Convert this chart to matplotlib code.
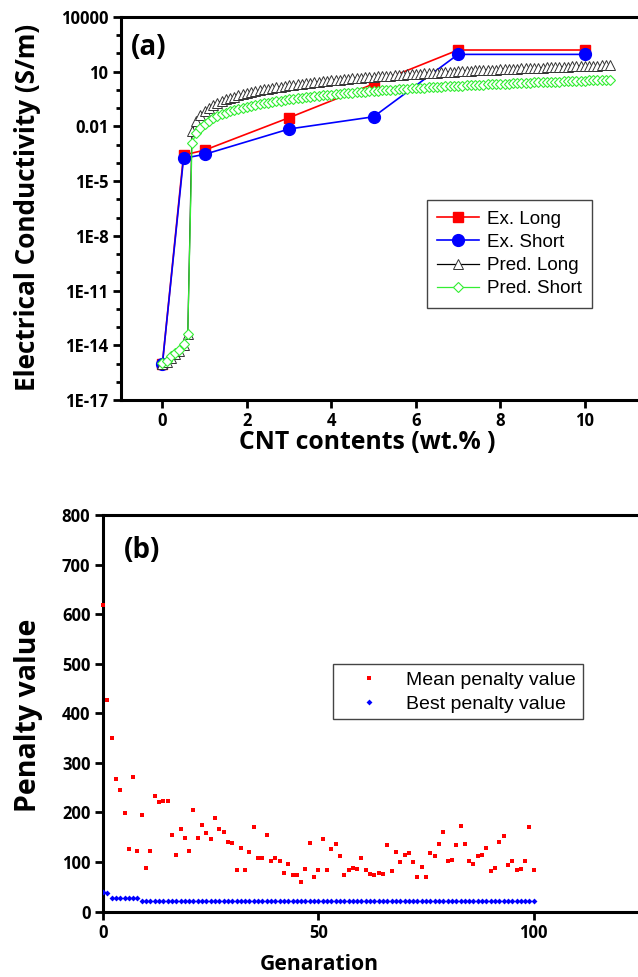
import matplotlib
matplotlib.use('Agg')
import matplotlib.pyplot as plt
import numpy as np
from matplotlib.ticker import FixedLocator, NullFormatter

# ---- (a) data : conductivity, read as log10(S/m) ----
ex_x = [0, 0.5, 1, 3, 5, 7, 10]
ex_long_log = [-15.0, -3.57, -3.3, -1.52, 0.33, 2.19, 2.19]
ex_short_log = [-15.0, -3.75, -3.53, -2.14, -1.47, 1.95, 1.95]

pred_x = [round(0.1 * i, 1) for i in range(107)]
pred_long_log = [
    -15.0, -14.9, -14.7, -14.5, -14.3, -14.0, -13.4, -2.23, -1.69, -1.37,
    -1.14, -0.97, -0.83, -0.71, -0.60, -0.51, -0.43, -0.36, -0.29, -0.23,
    -0.17, -0.11, -0.06, -0.02, 0.03, 0.07, 0.11, 0.15, 0.18, 0.22,
    0.25, 0.28, 0.32, 0.34, 0.37, 0.40, 0.43, 0.45, 0.48, 0.50,
    0.52, 0.55, 0.57, 0.59, 0.61, 0.63, 0.65, 0.67, 0.69, 0.71,
    0.73, 0.74, 0.76, 0.78, 0.79, 0.81, 0.83, 0.84, 0.86, 0.87,
    0.89, 0.90, 0.91, 0.93, 0.94, 0.95, 0.97, 0.98, 0.99, 1.01,
    1.02, 1.03, 1.04, 1.05, 1.07, 1.08, 1.09, 1.10, 1.11, 1.12,
    1.13, 1.14, 1.15, 1.16, 1.17, 1.18, 1.19, 1.20, 1.21, 1.22,
    1.23, 1.24, 1.25, 1.26, 1.27, 1.28, 1.28, 1.29, 1.30, 1.31,
    1.32, 1.33, 1.33, 1.34, 1.35, 1.36, 1.37]
pred_short_log = [
    -14.95, -14.85, -14.6, -14.45, -14.25, -13.95, -13.4, -2.90, -2.38, -2.07,
    -1.86, -1.69, -1.55, -1.44, -1.34, -1.25, -1.17, -1.10, -1.03, -0.97,
    -0.92, -0.87, -0.82, -0.77, -0.73, -0.69, -0.65, -0.61, -0.58, -0.55,
    -0.51, -0.48, -0.45, -0.43, -0.40, -0.37, -0.35, -0.32, -0.30, -0.27,
    -0.25, -0.23, -0.21, -0.19, -0.17, -0.15, -0.13, -0.11, -0.09, -0.08,
    -0.06, -0.04, -0.03, -0.01, 0.01, 0.02, 0.04, 0.05, 0.07, 0.08,
    0.09, 0.11, 0.12, 0.14, 0.15, 0.16, 0.17, 0.19, 0.20, 0.21,
    0.22, 0.23, 0.25, 0.26, 0.27, 0.28, 0.29, 0.30, 0.31, 0.32,
    0.33, 0.34, 0.35, 0.36, 0.37, 0.38, 0.39, 0.40, 0.41, 0.42,
    0.43, 0.44, 0.44, 0.45, 0.46, 0.47, 0.48, 0.49, 0.49, 0.50,
    0.51, 0.52, 0.53, 0.53, 0.54, 0.55, 0.56]

ytick_exp = [-17, -14, -11, -8, -5, -2, 1, 4]
ytick_labels = ['1E-17', '1E-14', '1E-11', '1E-8', '1E-5', '0.01', '10', '10000']

# ---- (b) data : penalty per generation ----
mean_penalty = [
    619, 427, 350, 268, 245, 198, 126, 271, 122, 194,
    88, 122, 233, 220, 223, 223, 154, 115, 167, 148,
    122, 205, 148, 175, 158, 147, 188, 166, 160, 141,
    139, 83, 128, 83, 120, 171, 109, 109, 154, 101,
    109, 101, 77, 96, 73, 73, 60, 86, 139, 70,
    83, 147, 83, 126, 136, 113, 74, 83, 88, 86,
    109, 83, 76, 74, 77, 76, 134, 81, 120, 100,
    115, 118, 99, 70, 90, 70, 119, 113, 136, 160,
    101, 103, 134, 173, 136, 101, 96, 113, 115, 128,
    81, 88, 141, 153, 94, 101, 83, 86, 101, 171, 83]
best_penalty = [39, 38] + [28] * 7 + [22] * 92
generations = list(range(len(mean_penalty)))

plt.rcParams['font.family'] = ['Open Sans', 'DejaVu Sans']
plt.rcParams['font.weight'] = 'bold'
plt.rcParams['axes.labelweight'] = 'bold'
legend_prop = {'family': ['Liberation Sans', 'DejaVu Sans'], 'weight': 'normal'}

fig = plt.figure(figsize=(6.38, 9.77), dpi=100)

def style_axes(ax):
    for side in ['left', 'bottom', 'top']:
        ax.spines[side].set_linewidth(2.2)
    ax.spines['right'].set_visible(False)
    ax.tick_params(which='major', direction='out', length=5.5, width=2.0,
                   right=False, top=False, labelsize=12)
    ax.tick_params(which='minor', direction='out', length=3.5, width=2.0,
                   right=False, top=False)

# ---------------- panel (a) ----------------
ax1 = fig.add_axes([0.1897, 0.5906, 0.8103, 0.392])
ax1.set_yscale('log')
ax1.plot(ex_x, [10 ** v for v in ex_long_log], '-s', color='red', lw=1.2,
         ms=7, mec='red', label='Ex. Long', zorder=3)
ax1.plot(ex_x, [10 ** v for v in ex_short_log], '-o', color='blue', lw=1.2,
         ms=8.5, mec='blue', label='Ex. Short', zorder=3)
ax1.plot(pred_x, [10 ** v for v in pred_long_log], '-^', color='black', lw=0.9,
         ms=7, mfc='white', mec='#333333', mew=0.7, label='Pred. Long', zorder=4)
ax1.plot(pred_x, [10 ** v for v in pred_short_log], '-D', color='#33ee33', lw=0.9,
         ms=5.3, mfc='white', mec='#33ee33', mew=0.8, label='Pred. Short', zorder=5)

ax1.set_xlim(-0.98, 11.26)
ax1.set_ylim(1e-17, 1e4)
ax1.xaxis.set_major_locator(FixedLocator([0, 2, 4, 6, 8, 10]))
ax1.yaxis.set_major_locator(FixedLocator([10.0 ** e for e in ytick_exp]))
ax1.yaxis.set_minor_locator(FixedLocator([10.0 ** e for e in range(-17, 5)]))
ax1.yaxis.set_minor_formatter(NullFormatter())
ax1.set_yticklabels(ytick_labels)
style_axes(ax1)
ax1.set_xlabel('CNT contents (wt.% )', fontsize=17.8)
ax1.set_ylabel('Electrical Conductivity (S/m)', fontsize=18.8)
ax1.xaxis.set_label_coords(0.476, -0.078)
ax1.yaxis.set_label_coords(-0.155, 0.504)
ax1.text(0.02, 0.92, '(a)', transform=ax1.transAxes, fontsize=20,
         va='center', ha='left')
leg1 = ax1.legend(loc='upper left', bbox_to_anchor=(0.592, 0.522), frameon=True,
                  fancybox=False, edgecolor='#444444', framealpha=1,
                  prop=dict(legend_prop, size=13.5), handlelength=2.2,
                  handletextpad=0.45, labelspacing=0.33, borderpad=0.55,
                  borderaxespad=0)
leg1.get_frame().set_linewidth(1.0)

# ---------------- panel (b) ----------------
ax2 = fig.add_axes([0.1614, 0.067, 0.8386, 0.4059])
ax2.plot(generations, mean_penalty, 's', color='red', ms=3.3, mew=0,
         label='Mean penalty value', zorder=3, clip_on=False)
ax2.plot(generations, best_penalty, 'D', color='blue', ms=3.0, mew=0,
         label='Best penalty value', zorder=3)
ax2.set_xlim(0, 124.2)
ax2.set_ylim(0, 800)
ax2.xaxis.set_major_locator(FixedLocator([0, 50, 100]))
ax2.yaxis.set_major_locator(FixedLocator(list(range(0, 801, 100))))
style_axes(ax2)
ax2.set_xlabel('Genaration', fontsize=15.2)
ax2.set_ylabel('Penalty value', fontsize=20.5)
ax2.xaxis.set_label_coords(0.405, -0.108)
ax2.yaxis.set_label_coords(-0.112, 0.496)
ax2.text(0.04, 0.91, '(b)', transform=ax2.transAxes, fontsize=20,
         va='center', ha='left')
leg2 = ax2.legend(loc='upper left', bbox_to_anchor=(0.430, 0.6238), frameon=True,
                  fancybox=False, edgecolor='#444444', framealpha=1,
                  prop=dict(legend_prop, size=14), handlelength=3.0,
                  handletextpad=0.4, labelspacing=0.33, borderpad=0.35,
                  borderaxespad=0, markerscale=1.0)
leg2.get_frame().set_linewidth(1.0)

fig.savefig('out.png', dpi=100)
